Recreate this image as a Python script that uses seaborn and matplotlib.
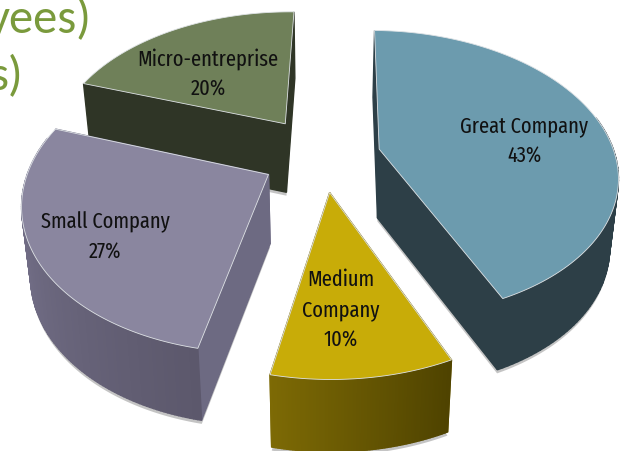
import numpy as np
import seaborn as sns
import matplotlib.pyplot as plt

categories = ["Great Company", "Medium\nCompany", "Small Company", "Micro-entreprise"]
shares = [43, 10, 27, 20]

# top face, wall at left end of the gradient, wall at right end
top_colors = ["#6c9bae", "#c8ac08", "#8a869f", "#6f8059"]
wall_left = ["#2d3f47", "#7d6a05", "#7f7b96", "#2f3526"]
wall_right = ["#2d3f47", "#4f4300", "#5c586c", "#2f3526"]
face_colors = ["#2d3f47", "#7d6a05", "#6d6a82", "#2f3526"]
explode = [0.245, 0.25, 0.26, 0.29]
label_xy = [(524, 141), (341, 310), (105, 237), (208, 74)]

# pie geometry, in pixels
cx, cy = 323, 157
rx, ry = 236, 141
persp = 0.17
depth = 69
start_angle = np.radians(1)

sns.set_theme(style="white")
plt.rcParams["font.family"] = ["Fira Sans Extra Condensed", "Carlito", "DejaVu Sans"]

fig = plt.figure(figsize=(6.28, 4.52), dpi=100)
ax = fig.add_axes([0, 0, 1, 1])
ax.set_xlim(0, 628)
ax.set_ylim(452, 0)
ax.axis("off")


# u is to the right, v goes to the back of the pie, z is 0 on top and 1 at the bottom
def project(u, v, z=0):
    p = 1 / (1 + persp * v)
    return cx + rx * u * p * (1 - 0.03 * z), cy - ry * v * p + depth * z * p ** 0.2


def draw_quad(u1, v1, u2, v2, color):
    x1, y1 = project(u1, v1)
    x2, y2 = project(u2, v2)
    x3, y3 = project(u2, v2, 1)
    x4, y4 = project(u1, v1, 1)
    ax.fill([x1, x2, x3, x4], [y1, y2, y3, y4], color=color, ec=color, lw=1)


fractions = np.array(shares) / sum(shares)
ends = start_angle + np.cumsum(fractions) * 2 * np.pi
starts = ends - fractions * 2 * np.pi

# back slices first so the front ones cover them
for i in [3, 2, 1, 0]:
    th = np.linspace(starts[i], ends[i], 120)
    mid = (starts[i] + ends[i]) / 2
    ou, ov = explode[i] * np.sin(mid), explode[i] * np.cos(mid)
    u, v = ou + np.sin(th), ov + np.cos(th)

    # soft grey shadow just under the slice
    xs, ys = project(np.r_[ou, u], np.r_[ov, v], 1.05)
    ax.fill(xs, ys, color="#c4c4c4", lw=0)

    # the two cut faces
    draw_quad(ou, ov, u[0], v[0], face_colors[i])
    draw_quad(ou, ov, u[-1], v[-1], face_colors[i])

    # outer wall, strips for the gradient
    grad = sns.blend_palette([wall_left[i], wall_right[i]], len(th) - 1)
    order = np.argsort(u[:-1])
    for rank, j in enumerate(order):
        if np.cos(th[j]) < 0.25:
            draw_quad(u[j], v[j], u[j + 1], v[j + 1], grad[rank])

    # top face
    xs, ys = project(np.r_[ou, u], np.r_[ov, v])
    ax.fill(xs, ys, color=top_colors[i], ec="#dfe3e6", lw=0.6, joinstyle="round")

    ax.text(label_xy[i][0], label_xy[i][1], f"{categories[i]}\n{shares[i]}%",
            ha="center", va="center", fontsize=16, color="#111111", linespacing=1.5)

# clipped text from the slide behind the chart
ax.text(92, 33, "yees)", ha="right", va="baseline", fontsize=35, color="#7a9a3c", family="Carlito")
ax.text(23, 90, "s)", ha="right", va="baseline", fontsize=35, color="#7a9a3c", family="Carlito")

fig.savefig("out.png", dpi=100, facecolor="white")
